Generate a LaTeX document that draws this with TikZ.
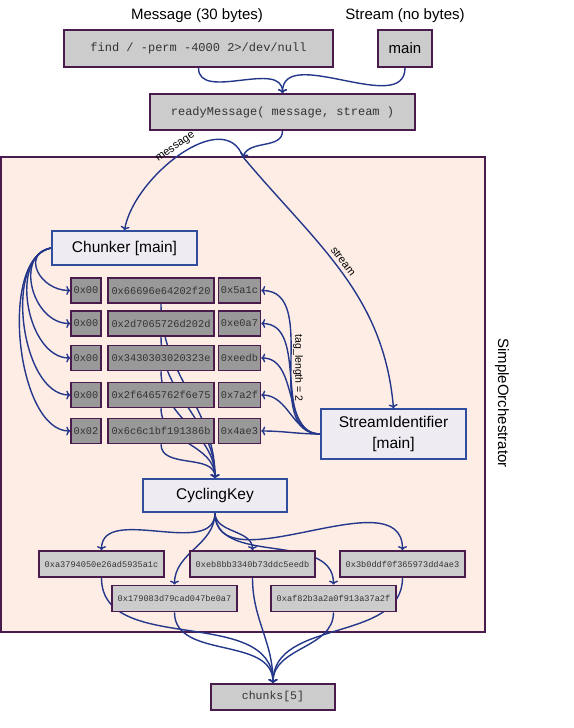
\documentclass[tikz,border=0pt]{standalone}
\usepackage{fontspec}
\setmainfont{Liberation Sans}
\setmonofont{Liberation Mono}
\usetikzlibrary{arrows.meta, backgrounds}

\definecolor{framefill}{HTML}{FDEDE5}
\definecolor{frameline}{HTML}{4A1C4E}
\definecolor{boxgray}{HTML}{CCCCCC}
\definecolor{cellgray}{HTML}{999999}
\definecolor{compfill}{HTML}{EFEBF3}
\definecolor{compline}{HTML}{2F4E9E}
\definecolor{flowblue}{HTML}{24378A}

\pgfdeclarelayer{frame}
\pgfdeclarelayer{wires}
\pgfsetlayers{frame,wires,main}

\begin{document}
\begin{tikzpicture}[x=1pt, y=-1pt,
        codebox/.style={draw=frameline, line width=1.8pt, fill=boxgray, text=black!80, inner sep=0pt, font=\fontsize{12}{14}\selectfont\ttfamily},
        comp/.style={draw=compline, line width=1.5pt, fill=compfill, inner sep=0pt, font=\fontsize{15.5}{19}\selectfont},
        cell/.style={draw=frameline, line width=1.5pt, fill=cellgray, text=black!80, inner sep=0pt, minimum height=25pt, font=\fontsize{10.3}{12}\selectfont\ttfamily},
        keybox/.style={codebox, minimum width=125pt, minimum height=26pt, font=\fontsize{8.6}{10}\selectfont\ttfamily},
        flow/.style={draw=flowblue, line width=1.4pt, -{To[length=4pt, width=9pt]}},
        lbl/.style={font=\fontsize{11}{13}\selectfont}]
    \useasboundingbox (0,0) rectangle (573,728);

    % inputs
    \node[font=\fontsize{15}{18}\selectfont] (msgtitle) at (197,16) {Message (30 bytes)};
    \node[font=\fontsize{15}{18}\selectfont] (streamtitle) at (405,16) {Stream (no bytes)};
    \node[codebox, minimum width=269pt, minimum height=37pt] (find) at (198.5,48.5) {find / -perm -4000 2>/dev/null};
    \node[codebox, minimum width=54pt, minimum height=37pt, font=\fontsize{15}{18}\selectfont\rmfamily, text=black] (main) at (405,48.5) {main};
    \node[codebox, minimum width=265pt, minimum height=36pt] (ready) at (282.5,112) {readyMessage( message, stream )};

    % orchestrator
    \begin{pgfonlayer}{frame}
        \node[draw=frameline, line width=2pt, fill=framefill, minimum width=484pt, minimum height=475pt] (orch) at (243,394.5) {};
    \end{pgfonlayer}
    \node[rotate=-90, font=\fontsize{15}{18}\selectfont] (orchlabel) at (502,403) {SimpleOrchestrator};
    \coordinate (entry) at (243,157);

    \node[comp, minimum width=145pt, minimum height=34pt] (chunker) at (124.5,248) {Chunker [main]};
    \node[comp, minimum width=145pt, minimum height=50pt, align=center] (sid) at (393.5,434) {StreamIdentifier\\[2pt][main]};
    \node[comp, minimum width=144pt, minimum height=33pt] (cyc) at (215,495.5) {CyclingKey};

    % chunk rows
    \foreach \r/\y/\a/\b/\c in {1/290.5/0x00/0x66696e64202f20/0x5a1c,
                                2/323.5/0x00/0x2d7065726d202d/0xe0a7,
                                3/358/0x00/0x3430303020323e/0xeedb,
                                4/395/0x00/0x2f6465762f6e75/0x7a2f,
                                5/431/0x02/0x6c6c1bf191386b/0x4ae3} {
        \node[cell, minimum width=30pt] (c1\r) at (86,\y) {\a};
        \node[cell, minimum width=106pt] (c2\r) at (161,\y) {\b};
        \node[cell, minimum width=42pt] (c3\r) at (239.5,\y) {\c};
    }
    \node[lbl, rotate=-90, font=\fontsize{10.5}{12}\selectfont] (taglabel) at (298,368) {tag\_length = 2};

    % keys
    \foreach \k/\x/\y/\t in {1/101.5/564/0xa3794050e26ad5935a1c,
                             2/174.5/598.5/0x179083d79cad047be0a7,
                             3/252.5/564/0xeb8bb3340b73ddc5eedb,
                             4/333.5/598.5/0xaf82b3a2a0f913a37a2f,
                             5/402.5/564/0x3b0ddf0f365973dd4ae3}
        \node[keybox] (k\k) at (\x,\y) {\t};
    \node[codebox, minimum width=124pt, minimum height=26pt, font=\fontsize{11.5}{13}\selectfont\ttfamily] (chunks) at (273,697) {chunks[5]};

    % connectors
    \begin{pgfonlayer}{wires}
        \draw[flow] (find.south) to[out=-90, in=90] (ready.north);
        \draw[flow] (main.south) to[out=-90, in=90] (ready.north);
        \draw[flow] (ready.south) to[out=-90, in=70] (entry);
        \draw[flow] (entry) to[out=110, in=80] node[lbl, sloped, above, pos=0.5] {message} (chunker.north);
        \draw[flow] (entry) to[out=-50, in=95] node[lbl, sloped, above, pos=0.47] {stream} (sid.north);
        \foreach \r/\l in {1/1.7, 2/1.25, 3/1.0, 4/0.85, 5/0.75}
            \draw[flow] (chunker.west) to[out=190, in=180, looseness=\l] (c1\r.west);
        \foreach \r in {1,...,5} {
            \draw[flow] (sid.west) to[out=180, in=0] (c3\r.east);
            \draw[flow] (c2\r.south) to[out=-90, in=90] (cyc.north);
        }
        \foreach \k in {1,...,5} {
            \draw[flow] (cyc.south) to[out=-90, in=90] (k\k.north);
            \draw[flow] (k\k.south) to[out=-90, in=90] (chunks.north);
        }
    \end{pgfonlayer}
\end{tikzpicture}
\end{document}
